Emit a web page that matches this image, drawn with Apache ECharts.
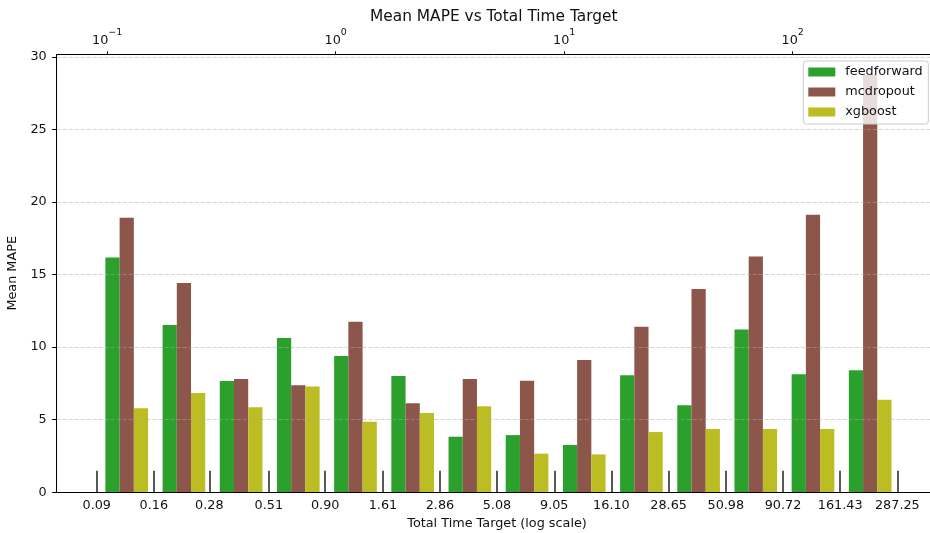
<!DOCTYPE html>
<html>
<head>
<meta charset="utf-8">
<script src="https://cdn.jsdelivr.net/npm/echarts@6/dist/echarts.min.js"></script>
<style>html,body{margin:0;padding:0;background:#fff;}#c{width:930px;height:533px;}</style>
</head>
<body>
<div id="c"></div>
<script>
// ---- data ----
const edgeLabels = ['0.09','0.16','0.28','0.51','0.90','1.61','2.86','5.08','9.05','16.10','28.65','50.98','90.72','161.43','287.25'];
const categories = edgeLabels.slice(0, -1).map((l, i) => l + '–' + edgeLabels[i + 1]);
const seriesNames = ['feedforward', 'mcdropout', 'xgboost'];
const feedforward = [16.17, 11.53, 7.67, 10.63, 9.39, 8.01, 3.83, 3.94, 3.26, 8.06, 5.99, 11.21, 8.13, 8.41];
const mcdropout   = [18.91, 14.41, 7.81, 7.37, 11.74, 6.13, 7.81, 7.69, 9.12, 11.41, 14.01, 16.24, 19.12, 28.74];
const xgboost     = [5.79, 6.84, 5.85, 7.28, 4.86, 5.46, 5.92, 2.66, 2.61, 4.15, 4.36, 4.36, 4.36, 6.38];
const topTickExps = [-1, 0, 1, 2];
const yTicks = [0, 5, 10, 15, 20, 25, 30];

// ---- layout ----
const FONT = 'DejaVu Sans';
const colors = ['#2ca02c', '#8c564b', '#bcbd22'];
const edgeLog = edgeLabels.map(s => Math.log10(parseFloat(s)));
const pad = 0.05 * (edgeLog[edgeLog.length - 1] - edgeLog[0]);
const xmin = edgeLog[0] - pad, xmax = edgeLog[edgeLog.length - 1] + pad;
const ymax = 30.17;
const frameLeft = 56.7, frameWidth = 880.7, frameTop = 54.3, frameBottom = 533 - 492.3;
const px = v => frameLeft + (v - xmin) / (xmax - xmin) * frameWidth;
const barLeft = px(edgeLog[0]) + 1.4;
const barWidth = px(edgeLog[edgeLog.length - 1]) - px(edgeLog[0]);

const txt = {color: '#111', fontFamily: FONT, fontSize: 12.8};

const chart = echarts.init(document.getElementById('c'), null, {renderer: 'canvas'});
chart.setOption({
  animation: false,
  backgroundColor: '#fff',
  title: {
    text: 'Mean MAPE vs Total Time Target',
    left: 370, top: 9, padding: 0,
    textStyle: {color: '#111', fontFamily: FONT, fontSize: 15.4, fontWeight: 'normal'}
  },
  legend: {
    data: seriesNames,
    orient: 'vertical',
    left: 803.3, top: 61,
    padding: [3.5, 5.6, 4.5, 5],
    itemWidth: 27, itemHeight: 9, itemGap: 5,
    icon: 'rect',
    backgroundColor: 'rgba(255,255,255,0.8)',
    borderColor: '#cccccc', borderWidth: 1, borderRadius: 3,
    textStyle: Object.assign({}, txt, {lineHeight: 15, padding: [0, 0, 0, 5]})
  },
  grid: [
    {left: frameLeft, width: frameWidth, top: frameTop, bottom: frameBottom, containLabel: false, outerBoundsMode: 'none'},
    {left: barLeft, width: barWidth, top: frameTop, bottom: frameBottom, containLabel: false, outerBoundsMode: 'none'}
  ],
  xAxis: [
    {
      gridIndex: 0, type: 'value', position: 'bottom', min: xmin, max: xmax, z: 5,
      name: 'Total Time Target (log scale)', nameLocation: 'middle', nameGap: 24,
      nameTextStyle: txt,
      axisLine: {show: true, onZero: false, lineStyle: {color: '#000', width: 1}},
      axisTick: {show: true, inside: true, length: 21.5, customValues: edgeLog, lineStyle: {color: '#222', width: 1.5}},
      axisLabel: Object.assign({}, txt, {
        show: true, margin: 7, customValues: edgeLog,
        formatter: v => {
          let best = 0;
          edgeLog.forEach((e, i) => { if (Math.abs(e - v) < Math.abs(edgeLog[best] - v)) best = i; });
          return edgeLabels[best];
        }
      }),
      splitLine: {show: false}
    },
    {
      gridIndex: 0, type: 'value', position: 'top', min: xmin, max: xmax, z: 5,
      axisLine: {show: true, onZero: false, lineStyle: {color: '#000', width: 1}},
      axisTick: {show: true, length: 3, customValues: topTickExps, lineStyle: {color: '#000', width: 1}},
      axisLabel: {
        show: true, margin: 7, customValues: topTickExps,
        formatter: v => '{b|10}{s|' + (v < 0 ? '\u2212' : '') + Math.abs(Math.round(v)) + '}',
        rich: {
          b: {color: '#111', fontFamily: FONT, fontSize: 12.8, lineHeight: 20, verticalAlign: 'bottom'},
          s: {color: '#111', fontFamily: FONT, fontSize: 9.5, lineHeight: 11, verticalAlign: 'top'}
        }
      },
      splitLine: {show: false}
    },
    {
      gridIndex: 1, type: 'category', data: categories, boundaryGap: true,
      axisLine: {show: false}, axisTick: {show: false}, axisLabel: {show: false}, splitLine: {show: false}
    }
  ],
  yAxis: [
    {
      gridIndex: 0, type: 'value', min: 0, max: ymax, interval: 5, z: 3,
      name: 'Mean MAPE', nameLocation: 'middle', nameGap: 30, nameTextStyle: txt,
      axisLine: {show: true, onZero: false, lineStyle: {color: '#000', width: 1}},
      axisTick: {show: true, length: 4.5, customValues: yTicks, lineStyle: {color: '#000', width: 1}},
      axisLabel: Object.assign({}, txt, {margin: 10, customValues: yTicks}),
      splitLine: {show: true, lineStyle: {color: 'rgba(170,170,170,0.5)', width: 1, type: [4, 2]}}
    },
    {
      gridIndex: 1, type: 'value', min: 0, max: ymax,
      axisLine: {show: false}, axisTick: {show: false}, axisLabel: {show: false}, splitLine: {show: false}
    }
  ],
  series: [feedforward, mcdropout, xgboost].map((d, i) => ({
    name: seriesNames[i], type: 'bar', xAxisIndex: 2, yAxisIndex: 1,
    data: d, barCategoryGap: '25.4%', barGap: '0%',
    itemStyle: {color: colors[i]}
  }))
});
</script>
</body>
</html>
